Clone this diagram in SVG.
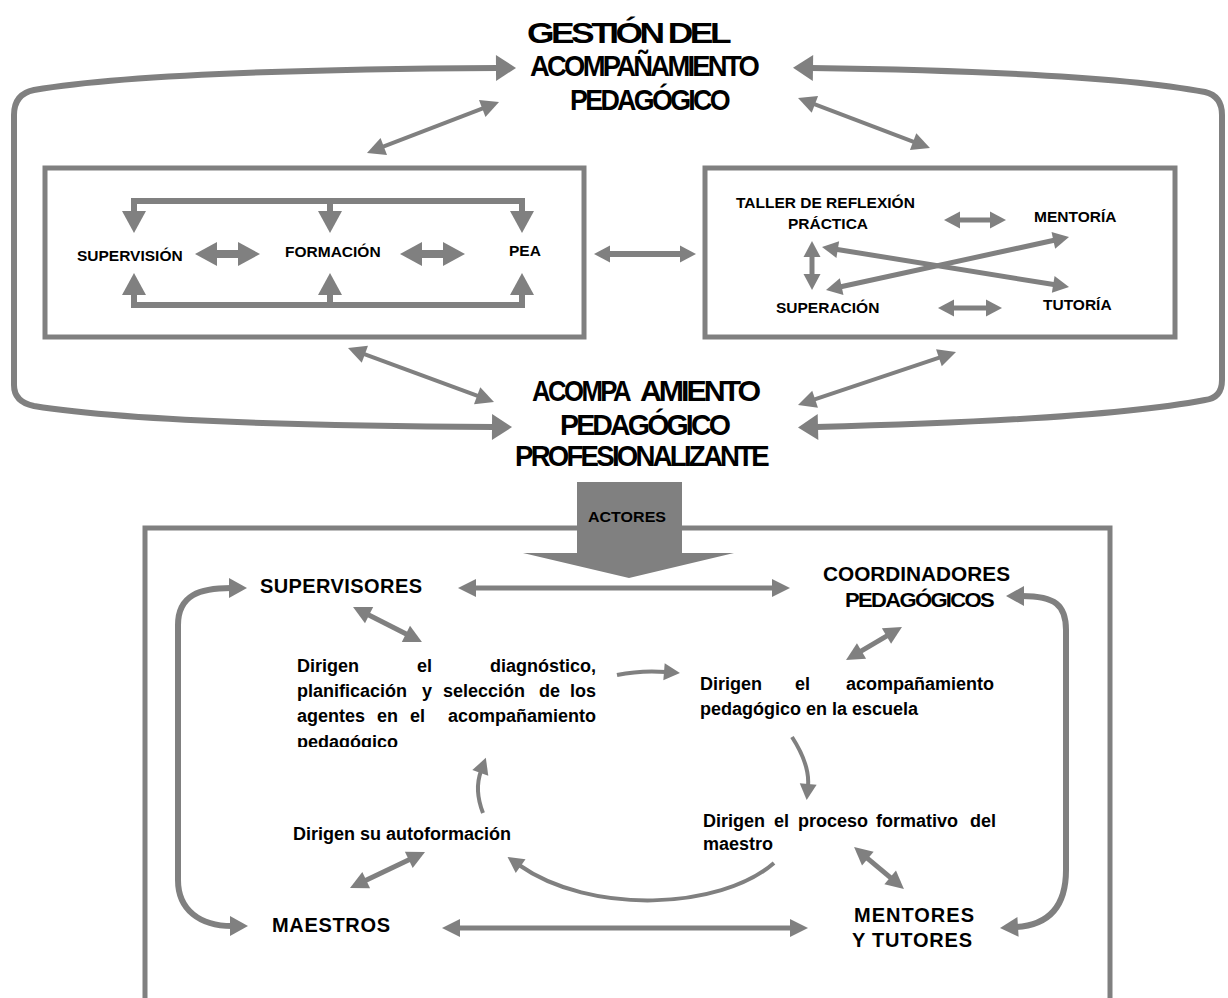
<svg xmlns="http://www.w3.org/2000/svg" width="1228" height="998" viewBox="0 0 1228 998">
<style>
  text { font-family: "Liberation Sans", Arial, sans-serif; font-weight: bold; fill: #000; }
  .ttl { font-size: 30px; letter-spacing: -3px; }
  .lbl { font-size: 15.5px; }
  .act { font-size: 20px; }
  .par { font-size: 18px; }
  .box { fill: none; stroke: #808080; stroke-width: 5; }
  .c { fill: none; stroke: #808080; }
  .w6 { stroke-width: 6; }
  .w5 { stroke-width: 5; }
  .w4 { stroke-width: 4; }
  .big { marker-start: url(#hBig); marker-end: url(#hBig); }
  .blk2 { marker-start: url(#hBlk); marker-end: url(#hBlk); }
  .blk1 { marker-end: url(#hBlk); }
  .mid2 { marker-start: url(#hMid); marker-end: url(#hMid); }
  .sm2 { marker-start: url(#hSm); marker-end: url(#hSm); }
  .sm1 { marker-end: url(#hSm); }
  .cur2 { marker-start: url(#hCur); marker-end: url(#hCur); }
</style>
<defs>
  <marker id="hBig" markerUnits="userSpaceOnUse" markerWidth="20" markerHeight="26" refX="2" refY="13" orient="auto-start-reverse" overflow="visible"><path d="M0,0 L20,13 L0,26 Z" fill="#808080"/></marker>
  <marker id="hBlk" markerUnits="userSpaceOnUse" markerWidth="22" markerHeight="24" refX="2" refY="12" orient="auto-start-reverse" overflow="visible"><path d="M0,0 L22,12 L0,24 Z" fill="#808080"/></marker>
  <marker id="hMid" markerUnits="userSpaceOnUse" markerWidth="18" markerHeight="18" refX="2" refY="9" orient="auto-start-reverse" overflow="visible"><path d="M0,0 L18,9 L0,18 Z" fill="#808080"/></marker>
  <marker id="hSm" markerUnits="userSpaceOnUse" markerWidth="16" markerHeight="17" refX="2" refY="8.5" orient="auto-start-reverse" overflow="visible"><path d="M0,0 L16,8.5 L0,17 Z" fill="#808080"/></marker>
  <marker id="hCur" markerUnits="userSpaceOnUse" markerWidth="18" markerHeight="20" refX="2" refY="10" orient="auto-start-reverse" overflow="visible"><path d="M0,0 L18,10 L0,20 Z" fill="#808080"/></marker>
  <clipPath id="cutPar"><rect x="280" y="640" width="340" height="107"/></clipPath>
</defs>

<!-- frames -->
<g id="frames">
  <rect id="box-left" class="box" x="45" y="168" width="539" height="169"/>
  <rect id="box-right" class="box" x="705" y="168" width="470" height="169"/>
  <path id="box-actors" class="box" d="M145,1002 L145,528 L1110,528 L1110,1002"/>
</g>

<!-- connectors -->
<g id="connectors">
  <!-- outer loops -->
  <path class="c w6 big" d="M498,68 Q150,70 34,90 Q14,94 14,115 L14,385 Q14,402 34,406 Q150,425 494,427"/>
  <path class="c w6 big" d="M811,68 Q1100,72 1205,92 Q1222,96 1222,115 L1222,380 Q1222,398 1205,400 Q1100,420 816,427"/>
  <!-- diagonals around the frames -->
  <path class="c w4 mid2" d="M381.9,147.2 L484.1,107.8"/>
  <path class="c w4 mid2" d="M813,103.7 L915,142.3"/>
  <path class="c w4 mid2" d="M363,353.6 L479,396.4"/>
  <path class="c w4 mid2" d="M813.2,399.9 L940.8,357.1"/>
  <!-- between frames -->
  <path class="c w6 sm2" d="M608,254 L682,254"/>
  <!-- left frame buses -->
  <path class="c w6 blk2" d="M134,213 L134,201 L522,201 L522,213" stroke-linejoin="miter"/>
  <path class="c w6 blk1" d="M330,201 L330,213"/>
  <path class="c w6 blk2" d="M134,293 L134,305 L522,305 L522,293" stroke-linejoin="miter"/>
  <path class="c w6 blk1" d="M330,305 L330,293"/>
  <path class="c blk2" stroke-width="8" d="M215,254 L240,254"/>
  <path class="c blk2" stroke-width="8" d="M420,254 L445,254"/>
  <!-- right frame -->
  <path class="c w5 sm2" d="M958,220 L992,220"/>
  <path class="c w5 sm2" d="M952,308 L988,308"/>
  <path class="c w5 sm2" d="M812,255 L812,276"/>
  <path class="c w5 sm2" d="M835.8,249.2 L1055.2,284.8"/>
  <path class="c w5 sm2" d="M839.7,287 L1055.3,240"/>
  <!-- actors -->
  <path class="c w5 mid2" d="M474,588 L774,588"/>
  <path class="c w5 mid2" d="M458,928 L792,928"/>
  <path class="c w5 mid2" d="M367.3,614.2 L407.7,634.8"/>
  <path class="c w5 mid2" d="M888.2,635.1 L859.8,651.9"/>
  <path class="c w5 mid2" d="M364.4,881.1 L410.6,858.9"/>
  <path class="c w5 mid2" d="M866.3,857.3 L891.7,878.7"/>
  <path class="c w6 cur2" d="M231,588 C200,588 178,595 178,625 L178,880 C178,910 200,926 232,926"/>
  <path class="c w6 cur2" d="M1022,596 C1055,596 1066,605 1066,630 L1066,870 C1066,905 1050,925 1016,927"/>
  <!-- cycle -->
  <path class="c w4 sm1" d="M617,675 Q641,670 666,672"/>
  <path class="c w4 sm1" d="M792,737 Q810,765 808,786"/>
  <path class="c w4 sm1" d="M774,863 C720,910 590,915 519,865"/>
  <path class="c w4 sm1" d="M483,813 Q474,790 481,771"/>
</g>

<g id="n-gestion">
  <text class="ttl" x="527" y="43" textLength="201" lengthAdjust="spacingAndGlyphs">GESTIÓN DEL</text>
  <text class="ttl" x="530" y="76" textLength="227" lengthAdjust="spacingAndGlyphs">ACOMPAÑAMIENTO</text>
  <text class="ttl" x="570" y="110" textLength="158" lengthAdjust="spacingAndGlyphs">PEDAGÓGICO</text>
</g>

<g id="n-componentes">
  <text class="lbl" x="77" y="261">SUPERVISIÓN</text>
  <text class="lbl" x="285" y="257">FORMACIÓN</text>
  <text class="lbl" x="509" y="256">PEA</text>
</g>

<g id="n-modalidades">
  <text class="lbl" x="736" y="208">TALLER DE REFLEXIÓN</text>
  <text class="lbl" x="828" y="229" text-anchor="middle">PRÁCTICA</text>
  <text class="lbl" x="1034" y="222">MENTORÍA</text>
  <text class="lbl" x="776" y="313">SUPERACIÓN</text>
  <text class="lbl" x="1043" y="310">TUTORÍA</text>
</g>

<g id="n-profesionalizante">
  <text class="ttl" y="401"><tspan x="532" textLength="96" lengthAdjust="spacingAndGlyphs">ACOMPA</tspan> <tspan x="640" textLength="118" lengthAdjust="spacingAndGlyphs">AMIENTO</tspan></text>
  <text class="ttl" x="560" y="435" textLength="168" lengthAdjust="spacingAndGlyphs">PEDAGÓGICO</text>
  <text class="ttl" x="515" y="466" textLength="252" lengthAdjust="spacingAndGlyphs">PROFESIONALIZANTE</text>
</g>

<g id="n-actores">
  <path d="M577,482 L682,482 L682,553 L734,553 L629,578 L523,553 L577,553 Z" fill="#808080"/>
  <text x="588" y="522" font-size="15" textLength="78" lengthAdjust="spacingAndGlyphs">ACTORES</text>
</g>

<g id="n-supervisores"><text class="act" x="260" y="593" textLength="162" lengthAdjust="spacing">SUPERVISORES</text></g>
<g id="n-coordinadores">
  <text class="act" x="823" y="581" font-size="18.5" textLength="187" lengthAdjust="spacingAndGlyphs">COORDINADORES</text>
  <text class="act" x="845" y="607" font-size="20" letter-spacing="-1.5" textLength="148" lengthAdjust="spacingAndGlyphs">PEDAGÓGICOS</text>
</g>
<g id="n-maestros"><text class="act" x="272" y="932" font-size="21" textLength="118" lengthAdjust="spacing">MAESTROS</text></g>
<g id="n-mentores">
  <text class="act" x="854" y="922" font-size="21" textLength="120" lengthAdjust="spacing">MENTORES</text>
  <text class="act" x="852" y="947" font-size="21" textLength="120" lengthAdjust="spacing">Y TUTORES</text>
</g>

<g id="n-diagnostico" clip-path="url(#cutPar)">
  <text class="par" y="672"><tspan x="297">Dirigen</tspan> <tspan x="417">el</tspan> <tspan x="596" text-anchor="end">diagnóstico,</tspan></text>
  <text class="par" y="697"><tspan x="297">planificación</tspan> <tspan x="422">y</tspan> <tspan x="443">selección</tspan> <tspan x="539">de</tspan> <tspan x="596" text-anchor="end">los</tspan></text>
  <text class="par" y="722"><tspan x="297">agentes</tspan> <tspan x="377">en</tspan> <tspan x="410">el</tspan> <tspan x="596" text-anchor="end">acompañamiento</tspan></text>
  <text class="par" x="297" y="748">pedagógico</text>
</g>

<g id="n-escuela">
  <text class="par" y="690"><tspan x="700">Dirigen</tspan> <tspan x="795">el</tspan> <tspan x="994" text-anchor="end">acompañamiento</tspan></text>
  <text class="par" x="700" y="715">pedagógico en la escuela</text>
</g>

<g id="n-proceso">
  <text class="par" y="827"><tspan x="703">Dirigen</tspan> <tspan x="774">el</tspan> <tspan x="798">proceso</tspan> <tspan x="876">formativo</tspan> <tspan x="996" text-anchor="end">del</tspan></text>
  <text class="par" x="703" y="850">maestro</text>
</g>

<g id="n-autoformacion">
  <text class="par" x="293" y="840">Dirigen su autoformación</text>
</g>
</svg>
